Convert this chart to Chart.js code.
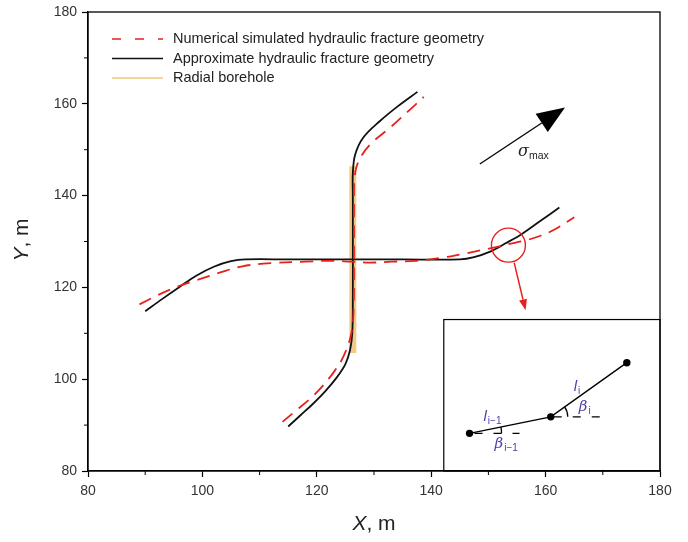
<!DOCTYPE html>
<html>
<head>
<meta charset="utf-8">
<script src="https://cdn.jsdelivr.net/npm/chart.js@4.4.1/dist/chart.umd.min.js"></script>
<style>
  html, body { margin: 0; padding: 0; background: #fff; }
</style>
</head>
<body>
<canvas id="chart" width="688" height="542"></canvas>
<script>
// ---- data (metres) ----
const xTicks = [80, 100, 120, 140, 160, 180];
const yTicks = [80, 100, 120, 140, 160, 180];
const minorTicks = [90, 110, 130, 150, 170];

// horizontal fracture branch
const approxHX = [90, 93, 96, 99, 102, 105, 107.5, 115, 126, 135, 145, 147.5, 150.3, 153, 155.8, 159, 162.4];
const approxHY = [114.8, 117.5, 120.1, 122.6, 124.5, 125.7, 126.1, 126.1, 126.1, 126.1, 126.1, 126.6, 127.8, 129.6, 131.6, 134.4, 137.4];
const numHX = [89, 92, 95.5, 99, 103, 107, 112, 118, 122.3, 126, 129.3, 133, 137.4, 142.1, 145.6, 150.3, 153.5, 156.7, 159, 161.4, 165];
const numHY = [116.3, 118.2, 120.1, 121.6, 123.2, 124.6, 125.3, 125.6, 125.8, 125.6, 125.4, 125.6, 125.8, 126.5, 127.3, 128.5, 129.4, 130.3, 131.2, 132.5, 135.3];

// vertical fracture branch
const approxVX = [115, 117.2, 119.3, 121.5, 123.5, 125, 125.8, 126.2, 126.3, 126.3, 126.3, 126.3, 126.7, 128.1, 131, 134.2, 137.6];
const approxVY = [89.7, 92.2, 94.6, 97.4, 100.4, 103.3, 106.3, 110, 118, 130, 140, 144.9, 148.9, 152.6, 156.2, 159.5, 162.6];
const numVX = [114, 116.5, 118.8, 121, 123, 124.6, 125.9, 126.4, 126.5, 126.5, 126.6, 127.3, 129.3, 132.8, 136, 138.7];
const numVY = [90.7, 93.3, 95.7, 98.5, 101.6, 104.8, 109.2, 114, 126, 138, 144, 147.5, 151.1, 154.8, 158.4, 161.5];

// radial borehole
const boreX = [126.3, 126.3];
const boreY = [105.7, 146.4];

// annotations
const stressArrowX = [148.5, 163.4];
const stressArrowY = [146.9, 159.2];
const markX = [153.5];
const markY = [129.2];
const markArrowX = [154.5, 156.5];
const markArrowY = [125.4, 115.0];
const insetBoxX = [142.2, 180];
const insetBoxY = [80, 113];
const insetX = [146.7, 160.9, 174.2];
const insetY = [88.2, 91.8, 103.6];

const FONT = 'Arial, "Liberation Sans", sans-serif';
const BLUE = '#4a3fa6';

function pts(xs, ys) { return xs.map((x, i) => ({ x: x, y: ys[i] })); }

// ---- extra drawing: frame, minor ticks, legend, titles, annotations ----
const decor = {
  id: 'decor',
  beforeDatasetsDraw(chart) {
    const ctx = chart.ctx, sx = chart.scales.x, sy = chart.scales.y;
    // inset box
    const l = sx.getPixelForValue(insetBoxX[0]), r = sx.getPixelForValue(insetBoxX[1]);
    const t = sy.getPixelForValue(insetBoxY[1]), b = sy.getPixelForValue(insetBoxY[0]);
    ctx.save();
    ctx.strokeStyle = '#000';
    ctx.lineWidth = 1.2;
    ctx.strokeRect(l, t, r - l, b - t);
    ctx.restore();
  },
  afterDraw(chart) {
    const ctx = chart.ctx, a = chart.chartArea;
    const sx = chart.scales.x, sy = chart.scales.y;
    const px = v => sx.getPixelForValue(v), py = v => sy.getPixelForValue(v);
    ctx.save();
    // frame
    ctx.strokeStyle = '#000';
    ctx.lineWidth = 1.3;
    ctx.strokeRect(a.left, a.top, a.right - a.left, a.bottom - a.top);
    // minor ticks
    ctx.lineWidth = 1;
    minorTicks.forEach(v => {
      ctx.beginPath();
      ctx.moveTo(px(v), a.bottom); ctx.lineTo(px(v), a.bottom + 4);
      ctx.moveTo(a.left, py(v)); ctx.lineTo(a.left - 4, py(v));
      ctx.stroke();
    });

    // legend
    const ds = chart.data.datasets;
    [0, 1, 2].forEach((i, k) => {
      const y = 39 + k * 19.5;
      ctx.beginPath();
      ctx.strokeStyle = ds[i].legendColor;
      ctx.lineWidth = ds[i].legendWidth;
      ctx.setLineDash(ds[i].legendDash);
      ctx.moveTo(112, y); ctx.lineTo(163, y);
      ctx.stroke();
      ctx.setLineDash([]);
      ctx.fillStyle = '#222';
      ctx.font = '14.5px ' + FONT;
      ctx.textBaseline = 'middle';
      ctx.textAlign = 'left';
      ctx.fillText(ds[i].label, 173, y);
    });

    // axis titles
    ctx.fillStyle = '#222';
    ctx.textBaseline = 'alphabetic';
    ctx.font = 'italic 21px ' + FONT;
    const wX = ctx.measureText('X').width;
    ctx.font = '21px ' + FONT;
    const wR = ctx.measureText(', m').width;
    const cx = (a.left + a.right) / 2 - (wX + wR) / 2;
    ctx.font = 'italic 21px ' + FONT;
    ctx.fillText('X', cx, 530);
    ctx.font = '21px ' + FONT;
    ctx.fillText(', m', cx + wX, 530);

    ctx.save();
    ctx.translate(28, 240);
    ctx.rotate(-Math.PI / 2);
    ctx.font = 'italic 21px ' + FONT;
    const wY = ctx.measureText('Y').width;
    ctx.font = '21px ' + FONT;
    const wYR = ctx.measureText(', m').width;
    ctx.font = 'italic 21px ' + FONT;
    ctx.fillText('Y', -(wY + wYR) / 2, 0);
    ctx.font = '21px ' + FONT;
    ctx.fillText(', m', -(wY + wYR) / 2 + wY, 0);
    ctx.restore();

    // sigma_max arrow
    drawArrow(ctx, px(stressArrowX[0]), py(stressArrowY[0]), px(stressArrowX[1]), py(stressArrowY[1]), '#000', 1.3, 28, 11);
    ctx.fillStyle = '#222';
    ctx.font = 'italic 16px "DejaVu Serif", serif';
    ctx.fillText('σ', 518, 156);
    ctx.font = '10.5px ' + FONT;
    ctx.fillText('max', 529, 159);

    // red pointer arrow
    drawArrow(ctx, px(markArrowX[0]), py(markArrowY[0]), px(markArrowX[1]), py(markArrowY[1]), '#e8201c', 1.5, 11, 4);

    // inset details
    const p1 = { x: px(insetX[0]), y: py(insetY[0]) };
    const p2 = { x: px(insetX[1]), y: py(insetY[1]) };
    const p3 = { x: px(insetX[2]), y: py(insetY[2]) };
    ctx.strokeStyle = '#000';
    ctx.lineWidth = 1.3;
    ctx.setLineDash([8, 11]);
    ctx.beginPath();
    ctx.moveTo(p1.x + 5, p1.y); ctx.lineTo(p1.x + 50, p1.y);
    ctx.moveTo(p2.x + 3, p2.y); ctx.lineTo(p2.x + 50, p2.y);
    ctx.stroke();
    ctx.setLineDash([]);
    const a1 = Math.atan2(p2.y - p1.y, p2.x - p1.x);
    const a2 = Math.atan2(p3.y - p2.y, p3.x - p2.x);
    ctx.beginPath();
    ctx.arc(p1.x, p1.y, 32, a1, 0);
    ctx.stroke();
    ctx.beginPath();
    ctx.arc(p2.x, p2.y, 17, a2, 0);
    ctx.stroke();

    ctx.fillStyle = BLUE;
    subLabel(ctx, 'l', 'i−1', p1.x + 14, p1.y - 12, 'italic 15px ' + FONT, '10px ' + FONT);
    subLabel(ctx, 'β', 'i−1', p1.x + 25, p1.y + 15, 'italic 15px "DejaVu Serif", serif', '10px ' + FONT);
    subLabel(ctx, 'l', 'i', p2.x + 23, p2.y - 26, 'italic 15px ' + FONT, '10px ' + FONT);
    subLabel(ctx, 'β', 'i', p2.x + 28, p2.y - 6, 'italic 15px "DejaVu Serif", serif', '10px ' + FONT);
    ctx.restore();
  }
};

function subLabel(ctx, main, sub, x, y, mainFont, subFont) {
  ctx.textAlign = 'left';
  ctx.textBaseline = 'alphabetic';
  ctx.font = mainFont;
  ctx.fillText(main, x, y);
  const w = ctx.measureText(main).width;
  ctx.font = subFont;
  ctx.fillText(sub, x + w + 1, y + 3);
}

function drawArrow(ctx, x0, y0, x1, y1, color, lw, headLen, headHalf) {
  const ang = Math.atan2(y1 - y0, x1 - x0);
  const bx = x1 - headLen * Math.cos(ang), by = y1 - headLen * Math.sin(ang);
  ctx.strokeStyle = color;
  ctx.fillStyle = color;
  ctx.lineWidth = lw;
  ctx.beginPath();
  ctx.moveTo(x0, y0); ctx.lineTo(bx, by);
  ctx.stroke();
  ctx.beginPath();
  ctx.moveTo(x1, y1);
  ctx.lineTo(bx + headHalf * Math.sin(ang), by - headHalf * Math.cos(ang));
  ctx.lineTo(bx - headHalf * Math.sin(ang), by + headHalf * Math.cos(ang));
  ctx.closePath();
  ctx.fill();
}

const RED = '#e8201c';
const line = (label, data, color, width, dash, order) => ({
  label, data, borderColor: color, borderWidth: width, borderDash: dash,
  showLine: true, pointRadius: 0, tension: 0.35, fill: false, order: order
});

const datasets = [
  Object.assign(line('Numerical simulated hydraulic fracture geometry', pts(numHX, numHY), RED, 1.8, [13, 8], 0),
    { legendColor: RED, legendWidth: 1.6, legendDash: [9, 14] }),
  Object.assign(line('Approximate hydraulic fracture geometry', pts(approxHX, approxHY), '#111', 1.8, [], 1),
    { legendColor: '#111', legendWidth: 1.6, legendDash: [] }),
  Object.assign(line('Radial borehole', pts(boreX, boreY), 'rgba(240,192,112,0.85)', 7, [], 3),
    { legendColor: '#f3c77a', legendWidth: 1.6, legendDash: [], borderCapStyle: 'butt', tension: 0 }),
  line('', pts(numVX, numVY), RED, 1.8, [13, 8], 0),
  line('', pts(approxVX, approxVY), '#111', 1.8, [], 1),
  { label: '', data: pts(markX, markY), showLine: false, pointRadius: 17, pointHoverRadius: 17,
    pointBorderColor: RED, pointBackgroundColor: 'rgba(0,0,0,0)', pointBorderWidth: 1.4, order: 0 },
  { label: '', data: pts(insetX, insetY), showLine: true, borderColor: '#000', borderWidth: 1.4,
    pointRadius: 3, pointBackgroundColor: '#000', pointBorderColor: '#000', tension: 0, order: 0 }
];

new Chart(document.getElementById('chart'), {
  type: 'scatter',
  data: { datasets: datasets },
  options: {
    responsive: false,
    animation: false,
    devicePixelRatio: 1,
    layout: { autoPadding: false, padding: { left: 0, top: 12, right: 28, bottom: 0 } },
    plugins: { legend: { display: false }, tooltip: { enabled: false } },
    scales: {
      x: {
        type: 'linear', min: 80, max: 180,
        afterBuildTicks: s => { s.ticks = xTicks.map(v => ({ value: v })); },
        afterFit: s => { s.height = 71; s.paddingLeft = 0; s.paddingRight = 0; },
        ticks: { color: '#333', font: { family: FONT, size: 14 }, padding: 6, maxRotation: 0 },
        grid: { drawOnChartArea: false, drawTicks: true, tickLength: 6, tickColor: '#000', tickWidth: 1.2 },
        border: { display: true, color: '#000', width: 1.3 }
      },
      y: {
        type: 'linear', min: 80, max: 180,
        afterBuildTicks: s => { s.ticks = yTicks.map(v => ({ value: v })); },
        afterFit: s => { s.width = 88; s.paddingTop = 0; s.paddingBottom = 0; },
        ticks: { color: '#333', font: { family: FONT, size: 14 }, padding: 5 },
        grid: { drawOnChartArea: false, drawTicks: true, tickLength: 6, tickColor: '#000', tickWidth: 1.2 },
        border: { display: true, color: '#000', width: 1.3 }
      }
    }
  },
  plugins: [decor]
});
</script>
</body>
</html>
